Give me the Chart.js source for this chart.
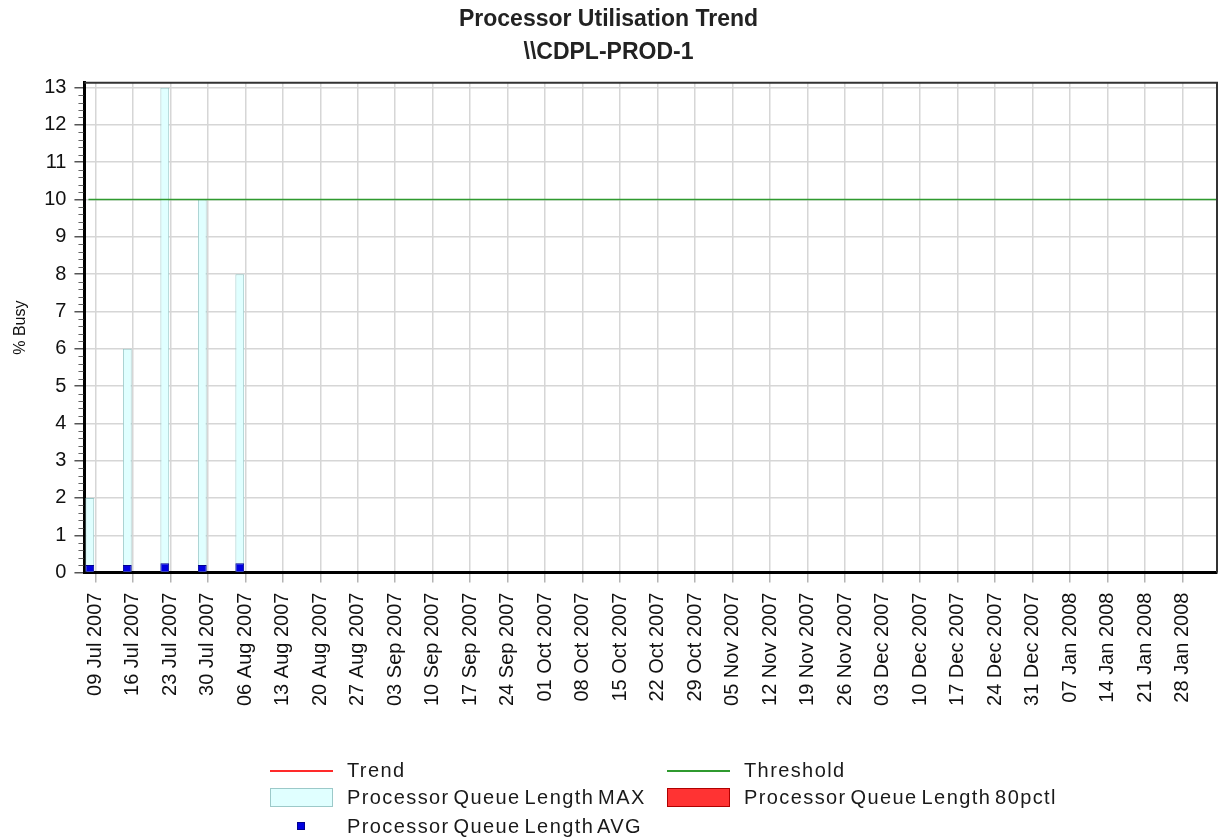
<!DOCTYPE HTML>
<html>
<head>
  <script src="https://cdn.jsdelivr.net/npm/chart.js"></script>
  <style>
    body { margin: 0; background: #fff; }
    #wrap { position: relative; width: 1219px; height: 839px; font-family: "Liberation Sans", Arial, sans-serif; }
    #wrap canvas { position: absolute; left: 0; top: 0; }
    .lg { position: absolute; font-size: 20px; line-height: 24px; color: #1a1a1a; white-space: nowrap; letter-spacing: 1.4px; word-spacing: -3px; }
    .sym { position: absolute; box-sizing: border-box; }
  </style>
</head>
<body>
<div id="wrap">
  <canvas id="trendChart" width="1219" height="839"></canvas>

  <!-- legend, laid out as the two-column grid of the original report -->
  <div class="sym" style="left:270px; top:770px; width:63px; height:2px; background:#ff2a2a;"></div>
  <div class="lg" style="left:347px; top:758px;">Trend</div>
  <div class="sym" style="left:667px; top:770px; width:63px; height:2px; background:#2f9a2f;"></div>
  <div class="lg" style="left:744px; top:758px;">Threshold</div>

  <div class="sym" style="left:270px; top:788px; width:63px; height:19px; background:#e0ffff; border:1px solid #9cc9c9;"></div>
  <div class="lg" style="left:347px; top:785px;">Processor Queue Length MAX</div>
  <div class="sym" style="left:667px; top:788px; width:63px; height:19px; background:#ff3333; border:1px solid #b00000;"></div>
  <div class="lg" style="left:744px; top:785px;">Processor Queue Length 80pctl</div>

  <div class="sym" style="left:297px; top:822px; width:8px; height:8px; background:#0000e0; border:1px solid #000090;"></div>
  <div class="lg" style="left:347px; top:814px;">Processor Queue Length AVG</div>
</div>

<script>
  // weekly buckets shown on the x axis
  var weekLabels = [
    '09 Jul 2007', '16 Jul 2007', '23 Jul 2007', '30 Jul 2007', '06 Aug 2007',
    '13 Aug 2007', '20 Aug 2007', '27 Aug 2007', '03 Sep 2007', '10 Sep 2007',
    '17 Sep 2007', '24 Sep 2007', '01 Oct 2007', '08 Oct 2007', '15 Oct 2007',
    '22 Oct 2007', '29 Oct 2007', '05 Nov 2007', '12 Nov 2007', '19 Nov 2007',
    '26 Nov 2007', '03 Dec 2007', '10 Dec 2007', '17 Dec 2007', '24 Dec 2007',
    '31 Dec 2007', '07 Jan 2008', '14 Jan 2008', '21 Jan 2008', '28 Jan 2008'
  ];

  // series values (only the first five weeks have data)
  var queueMax = [2, 6, 13, 10, 8];
  var queue80pctl = [0, 0, 0, 0, 0];
  var queueAvg = [0.2, 0.2, 0.25, 0.2, 0.25];
  var trendValues = [];
  var thresholdValue = 10;

  var yTickValues = [0, 1, 2, 3, 4, 5, 6, 7, 8, 9, 10, 11, 12, 13];

  Chart.defaults.font.family = '"Liberation Sans", Arial, sans-serif';
  Chart.defaults.color = '#111';

  function toPoints(values) {
    return values.map(function (v, i) { return { x: i, y: v }; });
  }

  // threshold line, top/right frame and the small minor ticks on the y axis
  var plotExtras = {
    id: 'plotExtras',
    afterDatasetsDraw: function (chart) {
      var c = chart.ctx;
      var area = chart.chartArea;
      var y = chart.scales.y;

      c.save();
      var ty = y.getPixelForValue(thresholdValue);
      c.strokeStyle = '#2f9a2f';
      c.lineWidth = 1.5;
      c.beginPath();
      c.moveTo(area.left + 4, ty);
      c.lineTo(area.right, ty);
      c.stroke();

      c.strokeStyle = '#333';
      c.lineWidth = 2;
      c.beginPath();
      c.moveTo(area.left, area.top);
      c.lineTo(area.right, area.top);
      c.lineTo(area.right, area.bottom);
      c.stroke();

      c.strokeStyle = '#666';
      c.lineWidth = 1;
      for (var k = 0; k < 13; k++) {
        for (var m = 1; m < 5; m++) {
          var py = Math.round(y.getPixelForValue(k + m / 5)) + 0.5;
          c.beginPath();
          c.moveTo(area.left - 6, py);
          c.lineTo(area.left - 1, py);
          c.stroke();
        }
      }
      c.restore();
    }
  };

  var ctx = document.getElementById('trendChart').getContext('2d');
  var myChart = new Chart(ctx, {
    type: 'bar',
    data: {
      datasets: [
        {
          label: 'Processor Queue Length AVG',
          data: toPoints(queueAvg),
          stack: 'a',
          order: 0,
          backgroundColor: '#0000e0',
          borderColor: '#000090',
          borderWidth: 1
        },
        {
          label: 'Processor Queue Length MAX',
          data: toPoints(queueMax),
          stack: 'a',
          order: 1,
          backgroundColor: '#e0ffff',
          borderColor: '#9cc9c9',
          borderWidth: 1
        },
        {
          label: 'Processor Queue Length 80pctl',
          data: toPoints(queue80pctl),
          stack: 'b',
          order: 2,
          backgroundColor: '#ff3333',
          borderColor: '#b00000',
          borderWidth: 0
        },
        {
          type: 'line',
          label: 'Trend',
          data: toPoints(trendValues),
          order: 3,
          borderColor: '#ff2a2a',
          borderWidth: 1.5,
          pointRadius: 0
        }
      ]
    },
    options: {
      responsive: false,
      animation: false,
      layout: { padding: { left: 0, right: 2, top: 0, bottom: 123 } },
      datasets: {
        bar: { categoryPercentage: 0.587, barPercentage: 0.8 }
      },
      plugins: {
        legend: { display: false },
        tooltip: { enabled: false },
        title: {
          display: true,
          text: ['Processor Utilisation Trend', '\\\\CDPL-PROD-1'],
          color: '#222',
          font: { size: 23, weight: 'bold', lineHeight: 1.43 },
          padding: { top: 3, bottom: 14 }
        }
      },
      scales: {
        x: {
          type: 'linear',
          stacked: true,
          offset: false,
          min: -0.29,
          max: 29.92,
          afterBuildTicks: function (axis) {
            axis.ticks = weekLabels.map(function (lbl, i) { return { value: i }; });
          },
          ticks: {
            autoSkip: false,
            minRotation: 90,
            maxRotation: 90,
            padding: 10,
            font: { size: 20 },
            callback: function (value) { return weekLabels[value]; }
          },
          grid: { offset: false, color: '#d6d6d6', lineWidth: 1.5, tickLength: 10, tickColor: '#b4b4b4' },
          border: { color: '#000', width: 3 }
        },
        y: {
          stacked: false,
          min: 0,
          max: 13.13,
          afterBuildTicks: function (axis) {
            axis.ticks = yTickValues.map(function (v) { return { value: v }; });
          },
          ticks: { padding: 8, font: { size: 20 } },
          grid: { color: '#d6d6d6', lineWidth: 1.5, tickLength: 10, tickColor: '#555' },
          border: { color: '#000', width: 3 },
          title: {
            display: true,
            text: '% Busy',
            font: { size: 16 },
            padding: { top: 11, bottom: 6 }
          }
        }
      }
    },
    plugins: [plotExtras]
  });
</script>
</body>
</html>
